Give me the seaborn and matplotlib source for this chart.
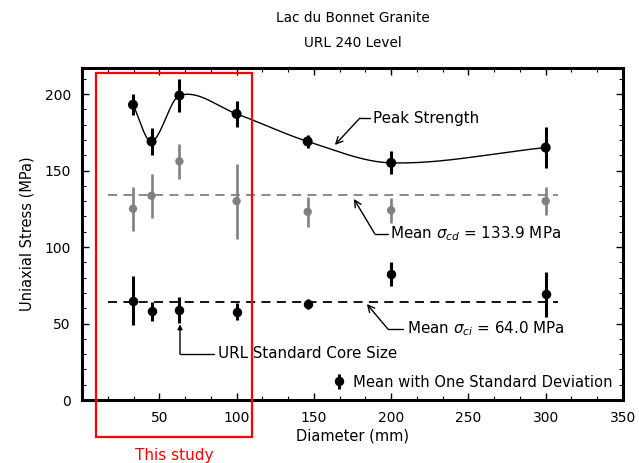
import numpy as np
import pandas as pd
import matplotlib
matplotlib.use("Agg")
import matplotlib.pyplot as plt
from matplotlib.patches import Rectangle
from matplotlib.ticker import MultipleLocator
import seaborn as sns

# Core diameters (mm) and strength statistics (MPa)
diameter = [33, 45, 63, 100, 146, 200, 300]
peak_mean = [193, 169, 199, 187, 169, 155, 165]
peak_sd = [7, 9, 11, 8.5, 4, 7.5, 13.5]
cd_mean = [125, 133.5, 156, 130, 123, 124, 130]
cd_sd = [14.5, 14.5, 11.5, 24.5, 10, 8, 9]
ci_mean = [65, 58, 59, 57.7, 62.7, 82.5, 69]
ci_sd = [16, 6.3, 8.5, 5.7, 3, 8, 14.5]

mean_cd = 133.9
mean_ci = 64.0
mean_line_span = (17, 308)

x_ticks = [50, 100, 150, 200, 250, 300, 350]
y_ticks = [0, 50, 100, 150, 200]

GRAY = "#808080"


def hermite_curve(x, y, xs):
    """Piecewise cubic Hermite curve with central-difference tangents."""
    x = np.asarray(x, float)
    y = np.asarray(y, float)
    n = len(x)
    m = np.zeros(n)
    m[1:-1] = (y[2:] - y[:-2]) / (x[2:] - x[:-2])
    m[0] = (y[1] - y[0]) / (x[1] - x[0])
    m[-1] = (y[-1] - y[-2]) / (x[-1] - x[-2])
    idx = np.clip(np.searchsorted(x, xs) - 1, 0, n - 2)
    h = x[idx + 1] - x[idx]
    t = (xs - x[idx]) / h
    h00 = 2 * t ** 3 - 3 * t ** 2 + 1
    h10 = t ** 3 - 2 * t ** 2 + t
    h01 = -2 * t ** 3 + 3 * t ** 2
    h11 = t ** 3 - t ** 2
    return h00 * y[idx] + h10 * h * m[idx] + h01 * y[idx + 1] + h11 * h * m[idx + 1]


sns.set_theme(style="ticks")
plt.rcParams["font.family"] = ["DejaVu Sans"]
plt.rcParams["mathtext.fontset"] = "dejavusans"
plt.rcParams["text.color"] = "black"
plt.rcParams["axes.labelcolor"] = "black"
plt.rcParams["xtick.color"] = "black"
plt.rcParams["ytick.color"] = "black"

W, H = 639, 463
fig = plt.figure(figsize=(W / 100, H / 100), dpi=100)
ax = fig.add_axes([82 / W, 1 - 400 / H, 541 / W, 332 / H])

df = pd.DataFrame({"diameter": diameter, "peak": peak_mean, "cd": cd_mean, "ci": ci_mean})

# smooth curve through the peak strengths
xs = np.linspace(min(diameter), max(diameter), 400)
curve = pd.DataFrame({"diameter": xs, "peak": hermite_curve(diameter, peak_mean, xs)})
sns.lineplot(data=curve, x="diameter", y="peak", color="black", lw=1.0, ax=ax, zorder=2)

# mean lines
ax.hlines(mean_cd, *mean_line_span, colors=GRAY, linestyles=(0, (5, 3.5)), lw=1.3, zorder=1)
ax.hlines(mean_ci, *mean_line_span, colors="black", linestyles=(0, (5, 3.5)), lw=1.3, zorder=1)

# error bars
ax.errorbar(diameter, cd_mean, yerr=cd_sd, fmt="none", ecolor=GRAY, elinewidth=1.9, zorder=3)
ax.errorbar(diameter, peak_mean, yerr=peak_sd, fmt="none", ecolor="black", elinewidth=2.2, zorder=3)
ci_eb = ax.errorbar(diameter, ci_mean, yerr=ci_sd, fmt="o", color="black", ms=5.8,
                    elinewidth=2.2, zorder=3)

sns.scatterplot(data=df, x="diameter", y="cd", color=GRAY, s=36, edgecolor="none", ax=ax, zorder=4)
sns.scatterplot(data=df, x="diameter", y="peak", color="black", s=52, edgecolor="none", ax=ax, zorder=4)

ax.set_xlim(0, 350)
ax.set_ylim(0, 217)
ax.set_xticks(x_ticks)
ax.set_yticks(y_ticks)
ax.xaxis.set_minor_locator(MultipleLocator(50 / 3))
ax.yaxis.set_minor_locator(MultipleLocator(10))
ax.tick_params(which="both", direction="in", top=True, right=True, color="black",
               labelsize=10, labelcolor="black")
ax.tick_params(which="major", length=5, width=1.0, pad=8)
ax.tick_params(which="minor", length=3, width=0.8)
for sp in ax.spines.values():
    sp.set_linewidth(2.2)
    sp.set_color("black")
    sp.set_visible(True)

ax.set_xlabel("Diameter (mm)", fontsize=10.5, color="black")
ax.set_ylabel("Uniaxial Stress (MPa)", fontsize=10.5, color="black")
ax.xaxis.set_label_coords(0.5, -0.085)
ax.yaxis.set_label_coords(-0.088, 0.5)

fig.text(352.5 / W, 1 - 18 / H, "Lac du Bonnet Granite", ha="center", va="center", fontsize=9.8)
fig.text(352.5 / W, 1 - 43 / H, "URL 240 Level", ha="center", va="center", fontsize=9.8)

# labels with leader lines
ax.plot([186.3, 179.8], [184.3, 184.3], color="black", lw=1.0)
ax.annotate("", xy=(163.6, 166.7), xytext=(179.8, 184.3),
            arrowprops=dict(arrowstyle="->", color="black", lw=1.0, shrinkA=0, shrinkB=0))
ax.text(188, 184.3, "Peak Strength", fontsize=10.9, va="center", ha="left")

ax.plot([197.9, 189.5], [108.5, 108.5], color="black", lw=1.0)
ax.annotate("", xy=(175.9, 131.4), xytext=(189.5, 108.5),
            arrowprops=dict(arrowstyle="->", color="black", lw=1.0, shrinkA=0, shrinkB=0))
ax.text(199.5, 108.5, r"Mean $\sigma_{cd}$ = 133.9 MPa", fontsize=10.9, va="center", ha="left")

ax.plot([207.6, 197.9], [46.4, 46.4], color="black", lw=1.0)
ax.annotate("", xy=(184.3, 62.7), xytext=(197.9, 46.4),
            arrowprops=dict(arrowstyle="->", color="black", lw=1.0, shrinkA=0, shrinkB=0))
ax.text(210, 46.4, r"Mean $\sigma_{ci}$ = 64.0 MPa", fontsize=10.9, va="center", ha="left")

ax.plot([85.4, 63.4], [30.1, 30.1], color="black", lw=1.0)
ax.annotate("", xy=(63.4, 49.5), xytext=(63.4, 30.1),
            arrowprops=dict(arrowstyle="-|>", color="black", lw=1.0, shrinkA=0, shrinkB=0,
                            mutation_scale=7))
ax.text(88, 30.1, "URL Standard Core Size", fontsize=10.9, va="center", ha="left")

ax.legend(handles=[ci_eb], labels=["Mean with One Standard Deviation"], loc="center left",
          bbox_to_anchor=(0.45, 0.054), frameon=False, fontsize=10.6, handlelength=1.0,
          handletextpad=0.5, borderaxespad=0)

# highlighted region for this study
ax.add_patch(Rectangle((9.1, -24.2), 101, 238, fill=False, edgecolor="red", lw=1.6,
                       clip_on=False, zorder=5))
ax.text(59.5, -36, "This study", color="red", fontsize=11, ha="center", va="center",
        clip_on=False)

fig.savefig("out.png", dpi=100)
